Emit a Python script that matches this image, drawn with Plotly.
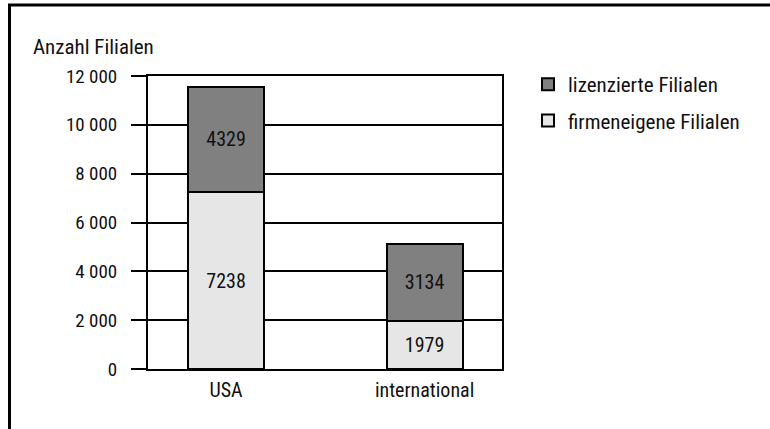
import plotly.graph_objects as go

categories = ["USA", "international"]
firmeneigene = [7238, 1979]
lizenzierte = [4329, 3134]
series_names = ["firmeneigene Filialen", "lizenzierte Filialen"]
y_title = "Anzahl Filialen"

FONT = "Liberation Sans Narrow, Roboto Condensed, Arial Narrow, Roboto, sans-serif"
FS = 21
W, H = 770, 429
L, R, T, B = 148, 268, 76, 60
pw, ph = W - L - R, H - T - B

def px_x(p):
    return (p - L) / pw

def px_y(p):
    return (H - B - p) / ph

fig = go.Figure()
fig.add_trace(go.Bar(
    x=categories, y=firmeneigene, name=series_names[0],
    marker=dict(color="#e6e6e6", line=dict(color="black", width=2)),
    text=[str(v) for v in firmeneigene], textposition="inside",
    insidetextanchor="middle", textangle=0,
    textfont=dict(family=FONT, size=20, color="#111111"),
    width=0.383, legendgroup="a", legendrank=2,
))
fig.add_trace(go.Bar(
    x=categories, y=lizenzierte, name=series_names[1],
    marker=dict(color="#808080", line=dict(color="black", width=2)),
    text=[str(v) for v in lizenzierte], textposition="inside",
    insidetextanchor="middle", textangle=0,
    textfont=dict(family=FONT, size=20, color="#111111"),
    width=0.383, legendgroup="b", legendrank=1,
))

fig.update_layout(
    width=W, height=H,
    margin=dict(l=L, r=R, t=T, b=B),
    barmode="stack",
    plot_bgcolor="white", paper_bgcolor="white",
    font=dict(family=FONT, size=FS, color="#111111"),
    separators=", ",
    legend=dict(x=px_x(528), y=px_y(64), xanchor="left", yanchor="top",
                font=dict(size=FS), tracegroupgap=6, bgcolor="rgba(0,0,0,0)",
                itemwidth=30),
    showlegend=True,
)
fig.update_xaxes(
    type="category", range=[-0.393, 1.39],
    showline=True, linecolor="black", linewidth=2, mirror=True,
    ticks="", showgrid=False, tickfont=dict(size=20), ticklabelstandoff=2,
)
fig.update_yaxes(
    range=[0, 12000], dtick=2000, tick0=0,
    showline=True, linecolor="black", linewidth=2, mirror=True,
    showgrid=True, gridcolor="black", gridwidth=2,
    zeroline=False,
    ticks="outside", ticklen=15, tickwidth=2, tickcolor="black",
    separatethousands=True, exponentformat="none",
    tickfont=dict(size=19), ticklabelstandoff=10,
)

fig.add_annotation(
    text=y_title, xref="paper", yref="paper",
    x=px_x(31), y=px_y(47), xanchor="left", yanchor="middle",
    showarrow=False, font=dict(size=FS),
)

# Frame: left and top border lines
fig.add_shape(type="line", xref="paper", yref="paper",
              x0=px_x(9.5), x1=px_x(9.5), y0=px_y(5), y1=px_y(440),
              line=dict(color="black", width=3))
fig.add_shape(type="line", xref="paper", yref="paper",
              x0=px_x(8), x1=px_x(780), y0=px_y(5), y1=px_y(5),
              line=dict(color="black", width=3))

fig.write_html("out.html")
